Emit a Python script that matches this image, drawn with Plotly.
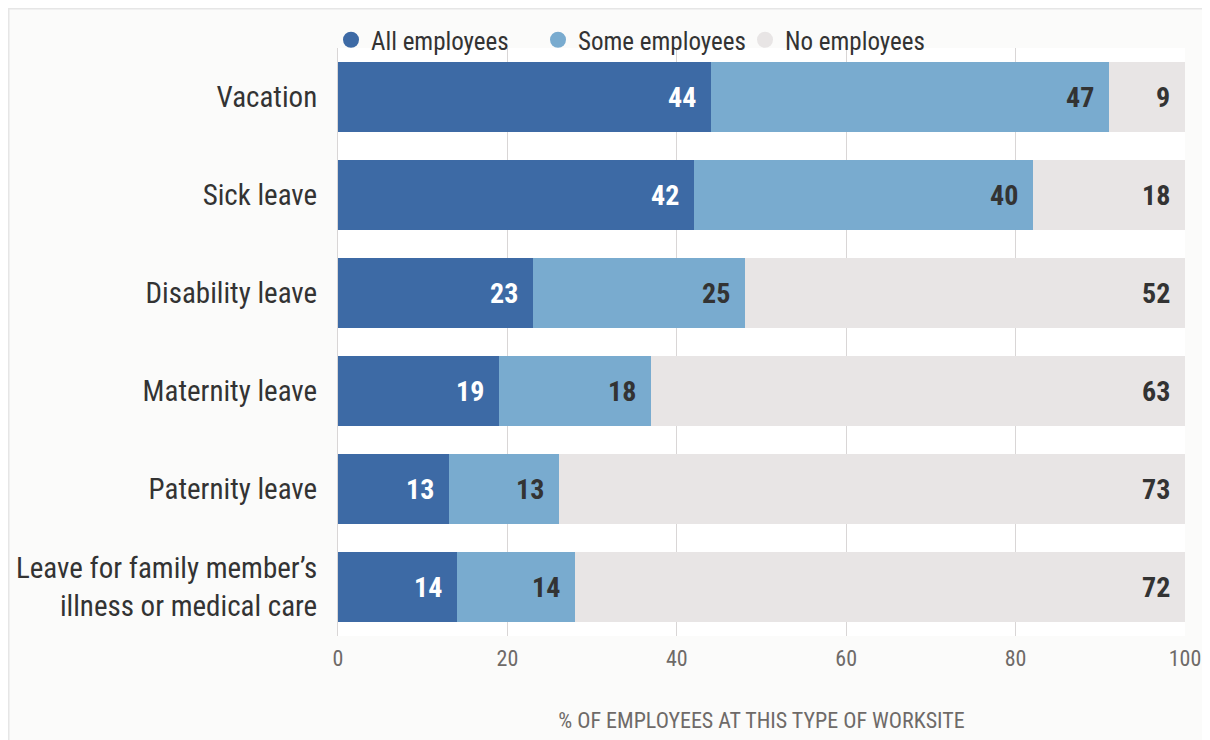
import plotly.graph_objects as go

categories = ["Vacation", "Sick leave", "Disability leave", "Maternity leave",
              "Paternity leave", "Leave for family member’s<br>illness or medical care"]
all_emp = [44, 42, 23, 19, 13.1, 14]
some_emp = [47, 40, 25, 18, 13, 14]
no_emp = [9, 18, 52, 63, 73.9, 72]
all_labels = ["44", "42", "23", "19", "13", "14"]
some_labels = ["47", "40", "25", "18", "13", "14"]
no_labels = ["9", "18", "52", "63", "73", "72"]
series_names = ["All employees", "Some employees", "No employees"]
colors = ["#3d6aa5", "#79abcf", "#e8e5e5"]
text_colors = ["#ffffff", "#333333", "#333333"]
x_ticks = [0, 20, 40, 60, 80, 100]

FONT = "Roboto Condensed, Liberation Sans Narrow, Roboto, sans-serif"

# page has an 8px body margin, so the figure is sized to fill the rest of the window
W, H = 1202, 732
L, R, T, B = 330, 25, 40, 104
pw, ph = W - L - R, H - T - B

fig = go.Figure()
series = [all_emp, some_emp, no_emp]
labels = [all_labels, some_labels, no_labels]
for name, vals, col in zip(series_names, series, colors):
    fig.add_trace(go.Bar(
        y=categories, x=vals, name=name, orientation="h",
        marker=dict(color=col, line=dict(width=0)),
        showlegend=False, hoverinfo="x+y",
    ))
# legend entries with circular markers
for name, col in zip(series_names, colors):
    fig.add_trace(go.Scatter(
        x=[None], y=[None], mode="markers", name=name,
        marker=dict(symbol="circle", size=30, color=col),
    ))

# value labels at the inner right end of each segment
annotations = []
for i, cat in enumerate(categories):
    cum = 0
    for vals, labs, tcol in zip(series, labels, text_colors):
        cum += vals[i]
        annotations.append(dict(
            x=cum, y=cat, xref="x", yref="y", text=f"<b>{labs[i]}</b>",
            showarrow=False, xanchor="right", yanchor="middle", xshift=-13,
            font=dict(family=FONT, size=28, color=tcol)))

fig.update_layout(
    width=W, height=H, barmode="stack", bargap=0.286,
    margin=dict(l=L, r=R, t=T, b=B, autoexpand=False),
    paper_bgcolor="#fbfbfa", plot_bgcolor="#ffffff",
    font=dict(family=FONT, color="#333333"),
    showlegend=True,
    legend=dict(orientation="h", x=-7 / pw, xanchor="left", y=1 + 8 / ph, yanchor="middle",
                font=dict(family=FONT, size=25, color="#333333"),
                itemsizing="trace", traceorder="normal", itemwidth=30,
                entrywidth=162, entrywidthmode="pixels",
                bgcolor="rgba(0,0,0,0)"),
    xaxis=dict(range=[0, 100], tickvals=x_ticks, showgrid=True, gridcolor="#d9d6d6",
               gridwidth=1, zeroline=False, showline=False, automargin=False,
               ticks="", ticklabelstandoff=7,
               tickfont=dict(family=FONT, size=22, color="#6e6a68"),
               title=dict(text="% OF EMPLOYEES AT THIS TYPE OF WORKSITE",
                          font=dict(family=FONT, size=22, color="#6e6a68"), standoff=42)),
    yaxis=dict(autorange="reversed", showgrid=False, showline=True, linecolor="#d9d6d6",
               linewidth=1, ticks="", ticklabelstandoff=14, automargin=False,
               tickfont=dict(family=FONT, size=29, color="#333333")),
    annotations=annotations,
    shapes=[dict(type="rect", xref="paper", yref="paper",
                 x0=-L / pw + 0.0006, x1=1 + (R + 10) / pw,
                 y0=-(B + 10) / ph, y1=1 + T / ph - 0.001,
                 line=dict(color="#e6e6e6", width=2), layer="below")],
)

fig.write_html("out.html")
